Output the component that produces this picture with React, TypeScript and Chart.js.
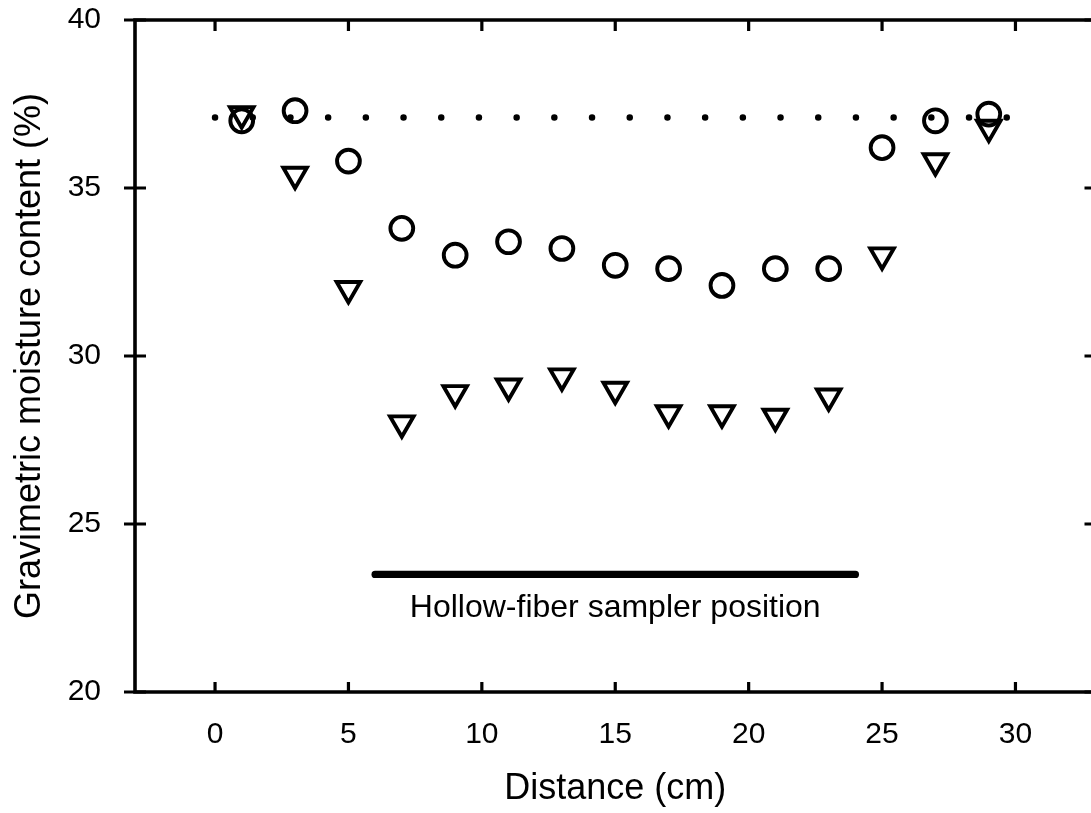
import React, { useEffect, useRef } from 'react';
import { Chart, registerables } from 'chart.js';

Chart.register(...registerables);

// ---- data ----
const distances = [1, 3, 5, 7, 9, 11, 13, 15, 17, 19, 21, 23, 25, 27, 29];
const circleSeries = [37.0, 37.3, 35.8, 33.8, 33.0, 33.4, 33.2, 32.7, 32.6, 32.1, 32.6, 32.6, 36.2, 37.0, 37.2];
const triangleSeries = [37.2, 35.4, 32.0, 28.0, 28.9, 29.1, 29.4, 29.0, 28.3, 28.3, 28.2, 28.8, 33.0, 35.8, 36.8];
const referenceX = [0, 30];
const referenceLevel = 37.1;
const samplerX = [6, 24];
const samplerLevel = 23.5;
const samplerLabel = 'Hollow-fiber sampler position';
const samplerLabelX = 15;
const samplerLabelY = 22.5;
const xTicks = [0, 5, 10, 15, 20, 25, 30];
const yTicks = [20, 25, 30, 35, 40];
const xRange = [-3, 33];
const yRange = [20, 40];
const xTitle = 'Distance (cm)';
const yTitle = 'Gravimetric moisture content (%)';

const FONT = '"Liberation Sans", Arial, Helvetica, sans-serif';

const zeroPadding = (scale: any) => {
  scale.paddingTop = 0;
  scale.paddingBottom = 0;
  scale.paddingLeft = 0;
  scale.paddingRight = 0;
};

const framePlugin = {
  id: 'frameAndTicks',
  afterDatasetsDraw(chart: any) {
    const { ctx, chartArea, scales } = chart;
    const { left, right, top, bottom } = chartArea;
    const xs = scales.x;
    const ys = scales.y;
    ctx.save();
    ctx.strokeStyle = '#000';
    ctx.lineCap = 'butt';
    // frame
    ctx.lineWidth = 3.6;
    ctx.beginPath();
    ctx.moveTo(left, top);
    ctx.lineTo(right, top);
    ctx.moveTo(left, bottom);
    ctx.lineTo(right, bottom);
    ctx.moveTo(left, top - 1.8);
    ctx.lineTo(left, bottom + 1.8);
    ctx.moveTo(right, top - 1.8);
    ctx.lineTo(right, bottom + 1.8);
    ctx.stroke();
    // tick marks
    ctx.lineWidth = 3.2;
    ctx.beginPath();
    xTicks.forEach((v) => {
      const px = xs.getPixelForValue(v);
      ctx.moveTo(px, bottom);
      ctx.lineTo(px, bottom - 10);
      ctx.moveTo(px, top);
      ctx.lineTo(px, top + 11);
    });
    yTicks.forEach((v) => {
      const py = ys.getPixelForValue(v);
      ctx.moveTo(left - 11, py);
      ctx.lineTo(left + 11, py);
      ctx.moveTo(right, py);
      ctx.lineTo(right - 11, py);
    });
    ctx.stroke();
    // annotation text
    ctx.fillStyle = '#000';
    ctx.font = `32px ${FONT}`;
    ctx.textAlign = 'center';
    ctx.textBaseline = 'middle';
    ctx.fillText(samplerLabel, xs.getPixelForValue(samplerLabelX), ys.getPixelForValue(samplerLabelY));
    ctx.restore();
  },
};

export default function App() {
  const canvasRef = useRef<HTMLCanvasElement | null>(null);

  useEffect(() => {
    const canvas = canvasRef.current;
    if (!canvas) return;
    const chart = new Chart(canvas, {
      type: 'scatter',
      data: {
        datasets: [
          {
            label: 'reference',
            data: referenceX.map((x) => ({ x, y: referenceLevel })),
            showLine: true,
            borderColor: '#000',
            borderWidth: 6.5,
            borderDash: [0, 37.7],
            borderCapStyle: 'round',
            pointRadius: 0,
            fill: false,
          },
          {
            label: 'sampler',
            data: samplerX.map((x) => ({ x, y: samplerLevel })),
            showLine: true,
            borderColor: '#000',
            borderWidth: 7.3,
            borderCapStyle: 'round',
            pointRadius: 0,
            fill: false,
          },
          {
            label: 'circles',
            data: distances.map((x, i) => ({ x, y: circleSeries[i] })),
            pointStyle: 'circle',
            pointRadius: 11.4,
            borderWidth: 3.9,
            borderColor: '#000',
            backgroundColor: 'rgba(0,0,0,0)',
          },
          {
            label: 'triangles',
            data: distances.map((x, i) => ({ x, y: triangleSeries[i] })),
            pointStyle: 'triangle',
            rotation: 180,
            pointRadius: 13.6,
            borderWidth: 3.9,
            borderColor: '#000',
            backgroundColor: 'rgba(0,0,0,0)',
          },
        ],
      },
      options: {
        animation: false,
        responsive: false,
        events: [],
        layout: { padding: { top: 20, right: 4, left: 0, bottom: 0 } },
        plugins: {
          legend: { display: false },
          tooltip: { enabled: false },
        },
        scales: {
          x: {
            type: 'linear',
            min: xRange[0],
            max: xRange[1],
            grid: { display: false },
            border: { display: false },
            afterBuildTicks: (scale: any) => {
              scale.ticks = xTicks.map((value) => ({ value }));
            },
            afterFit: (scale: any) => {
              scale.height = 121;
              zeroPadding(scale);
            },
            ticks: {
              padding: 17,
              color: '#000',
              font: { family: FONT, size: 30 },
              maxRotation: 0,
              callback: (v: any) => String(v),
            },
            title: {
              display: true,
              text: xTitle,
              color: '#000',
              font: { family: FONT, size: 36 },
              padding: { top: 0, bottom: 2 },
            },
          },
          y: {
            type: 'linear',
            min: yRange[0],
            max: yRange[1],
            grid: { display: false },
            border: { display: false },
            afterBuildTicks: (scale: any) => {
              scale.ticks = yTicks.map((value) => ({ value }));
            },
            afterFit: (scale: any) => {
              scale.width = 135;
              zeroPadding(scale);
            },
            ticks: {
              padding: 26,
              color: '#000',
              font: { family: FONT, size: 30 },
              callback: (v: any) => String(v),
            },
            title: {
              display: true,
              text: yTitle,
              color: '#000',
              font: { family: FONT, size: 36 },
              padding: { top: 8, bottom: 0 },
            },
          },
        },
      },
      plugins: [framePlugin],
    } as any);
    return () => {
      chart.destroy();
    };
  }, []);

  return (
    <div
      style={{
        position: 'fixed',
        left: 0,
        top: 0,
        width: 1091,
        height: 813,
        overflow: 'hidden',
        background: '#fff',
      }}
    >
      <canvas ref={canvasRef} width={1113} height={813} style={{ display: 'block', width: 1113, height: 813 }} />
    </div>
  );
}
